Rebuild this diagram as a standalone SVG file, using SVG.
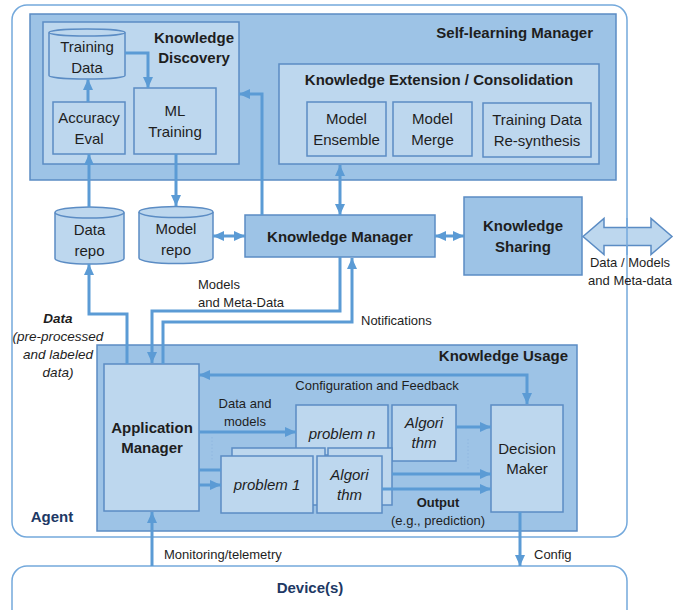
<svg xmlns="http://www.w3.org/2000/svg" width="683" height="610" viewBox="0 0 683 610">
<style>
.dk{fill:#9dc3e6;stroke:#5b8cc4;stroke-width:1.5}
.lt{fill:#bdd7ee;stroke:#5b8cc4;stroke-width:1.5}
.outer{fill:#fff;stroke:#74a9dc;stroke-width:1.5}
.ar{fill:none;stroke:#5b9bd5;stroke-width:3}
.dot{fill:none;stroke:#8fb6e0;stroke-width:1;stroke-dasharray:1.5 2}
text{font-family:"Liberation Sans",Arial,sans-serif;fill:#1e1e1e}
.t15{font-size:15px}
.b15{font-size:15px;font-weight:bold}
.t13{font-size:13px}
.i15{font-size:15px;font-style:italic}
.navy{font-size:15px;font-weight:bold;fill:#203864}
.m{text-anchor:middle}
.e{text-anchor:end}
</style>
<defs>
<marker id="ah" markerUnits="userSpaceOnUse" markerWidth="11" markerHeight="10" refX="11" refY="5" orient="auto-start-reverse">
<path d="M0,0 L11,5 L0,10 z" fill="#5b9bd5"/>
</marker>
</defs>

<g id="agent">
<rect class="outer" x="12" y="5" width="615" height="532" rx="15"/>
<text class="navy m" x="52" y="522">Agent</text>
</g>

<g id="device">
<rect class="outer" x="12" y="566" width="615" height="70" rx="15"/>
<text class="navy m" x="310" y="593">Device(s)</text>
</g>

<g id="self-learning-manager">
<rect class="dk" x="30" y="14" width="586" height="166"/>
<text class="b15 e" x="593" y="38">Self-learning Manager</text>
</g>

<g id="knowledge-discovery">
<rect class="lt" x="43" y="22" width="196" height="142"/>
<text class="b15 m" x="194" y="43">Knowledge</text>
<text class="b15 m" x="194" y="63">Discovery</text>
</g>

<g id="training-data">
<path class="lt" d="M49,32.5 L49,75.5 A38,3.5 0 0 0 125,75.5 L125,32.5"/>
<ellipse class="lt" cx="87" cy="32.5" rx="38" ry="3.5"/>
<text class="t15 m" x="87" y="52">Training</text>
<text class="t15 m" x="87" y="73">Data</text>
</g>

<g id="accuracy-eval">
<rect class="lt" x="53" y="102" width="72" height="52"/>
<text class="t15 m" x="89" y="123">Accuracy</text>
<text class="t15 m" x="89" y="144">Eval</text>
</g>

<g id="ml-training">
<rect class="lt" x="134" y="88" width="82" height="66"/>
<text class="t15 m" x="175" y="116">ML</text>
<text class="t15 m" x="175" y="137">Training</text>
</g>

<g id="knowledge-extension">
<rect class="lt" x="279" y="64" width="320" height="100"/>
<text class="b15 m" x="439" y="85">Knowledge Extension / Consolidation</text>
</g>

<g id="model-ensemble">
<rect class="lt" x="307" y="102" width="79" height="54"/>
<text class="t15 m" x="346.5" y="124">Model</text>
<text class="t15 m" x="346.5" y="145">Ensemble</text>
</g>

<g id="model-merge">
<rect class="lt" x="393" y="102" width="79" height="54"/>
<text class="t15 m" x="432.5" y="124">Model</text>
<text class="t15 m" x="432.5" y="145">Merge</text>
</g>

<g id="training-data-resynthesis">
<rect class="lt" x="483" y="103" width="108" height="54"/>
<text class="t15 m" x="537" y="125">Training Data</text>
<text class="t15 m" x="537" y="146">Re-synthesis</text>
</g>

<g id="data-repo">
<path class="lt" d="M55,212.5 L55,258.5 A34.5,5.5 0 0 0 124,258.5 L124,212.5"/>
<ellipse class="lt" cx="89.5" cy="212.5" rx="34.5" ry="5.5"/>
<text class="t15 m" x="89.5" y="235">Data</text>
<text class="t15 m" x="89.5" y="256">repo</text>
</g>

<g id="model-repo">
<path class="lt" d="M139,212 L139,258 A37,5.5 0 0 0 213,258 L213,212"/>
<ellipse class="lt" cx="176" cy="212" rx="37" ry="5.5"/>
<text class="t15 m" x="176" y="234">Model</text>
<text class="t15 m" x="176" y="255">repo</text>
</g>

<g id="knowledge-manager">
<rect class="dk" x="245" y="215" width="190" height="42"/>
<text class="b15 m" x="340" y="242">Knowledge Manager</text>
</g>

<g id="knowledge-sharing">
<rect class="dk" x="464" y="197" width="118" height="78"/>
<text class="b15 m" x="523" y="231">Knowledge</text>
<text class="b15 m" x="523" y="252">Sharing</text>
</g>

<g id="sharing-arrow">
<polygon points="583,236.5 604,218.5 604,227.5 651,227.5 651,218.5 672,236.5 651,254.5 651,245.5 604,245.5 604,254.5" fill="#bdd7ee" stroke="#5b8cc4" stroke-width="1.5"/>
<line x1="627" y1="218" x2="627" y2="255" stroke="#74a9dc" stroke-width="1.5"/>
<text class="t13 m" x="630" y="267">Data / Models</text>
<text class="t13 m" x="630" y="285">and Meta-data</text>
</g>

<g id="knowledge-usage">
<rect class="dk" x="97" y="345" width="480" height="186"/>
<text class="b15 e" x="568" y="361">Knowledge Usage</text>
</g>

<g id="application-manager">
<rect class="lt" x="104" y="364" width="95" height="147"/>
<text class="b15 m" x="152" y="433">Application</text>
<text class="b15 m" x="152" y="453">Manager</text>
</g>

<g id="problem-n">
<rect class="lt" x="296" y="405" width="92" height="50"/>
<text class="i15 m" x="342" y="439">problem n</text>
</g>

<g id="algorithm-n">
<rect class="lt" x="392" y="405" width="64" height="56"/>
<text class="i15 m" x="424" y="428">Algori</text>
<text class="i15 m" x="424" y="448">thm</text>
</g>

<g id="problem-mid">
<rect class="lt" x="232" y="448" width="93" height="57"/>
</g>

<g id="algorithm-mid">
<rect class="lt" x="328" y="448" width="64" height="57"/>
</g>

<g id="problem-1">
<rect class="lt" x="221" y="456" width="92" height="57"/>
<text class="i15 m" x="267" y="490">problem 1</text>
</g>

<g id="algorithm-1">
<rect class="lt" x="317" y="456" width="65" height="57"/>
<text class="i15 m" x="349.5" y="480">Algori</text>
<text class="i15 m" x="349.5" y="500">thm</text>
</g>

<g id="decision-maker">
<rect class="lt" x="491" y="405" width="72" height="107"/>
<text class="t15 m" x="527" y="454">Decision</text>
<text class="t15 m" x="527" y="474">Maker</text>
</g>

<g id="connectors">
<polyline class="ar" points="125,53 148,53 148,88" marker-end="url(#ah)"/>
<line class="ar" x1="88" y1="102" x2="88" y2="79" marker-end="url(#ah)"/>
<line class="ar" x1="89" y1="207" x2="89" y2="154" marker-end="url(#ah)"/>
<line class="ar" x1="176" y1="154" x2="176" y2="206" marker-end="url(#ah)"/>
<polyline class="ar" points="262,215 262,94 239,94" marker-end="url(#ah)"/>
<line class="ar" x1="340" y1="165" x2="340" y2="215" marker-start="url(#ah)" marker-end="url(#ah)"/>
<line class="ar" x1="213" y1="236" x2="245" y2="236" marker-start="url(#ah)" marker-end="url(#ah)"/>
<line class="ar" x1="435" y1="236" x2="464" y2="236" marker-start="url(#ah)" marker-end="url(#ah)"/>
<polyline class="ar" points="127,364 127,314 89,314 89,264" marker-end="url(#ah)"/>
<polyline class="ar" points="340,257 340,311 152,311 152,363" marker-end="url(#ah)"/>
<polyline class="ar" points="163,364 163,322 352,322 352,258" marker-end="url(#ah)"/>
<polyline class="ar" points="199,375 527,375 527,404" marker-start="url(#ah)" marker-end="url(#ah)"/>
<line class="ar" x1="199" y1="432" x2="296" y2="432" marker-end="url(#ah)"/>
<line class="ar" x1="199" y1="470" x2="221" y2="470"/>
<line class="ar" x1="199" y1="485" x2="221" y2="485" marker-end="url(#ah)"/>
<line class="ar" x1="456" y1="427" x2="491" y2="427" marker-end="url(#ah)"/>
<line class="ar" x1="392" y1="474" x2="491" y2="474" marker-end="url(#ah)"/>
<line class="ar" x1="382" y1="489" x2="491" y2="489" marker-end="url(#ah)"/>
<line class="ar" x1="152" y1="566" x2="152" y2="512" marker-end="url(#ah)"/>
<line class="ar" x1="520" y1="512" x2="520" y2="566" marker-end="url(#ah)"/>
<line class="dot" x1="212" y1="437" x2="212" y2="460"/>
<line class="dot" x1="468" y1="439" x2="468" y2="470"/>
</g>

<g id="labels">
<text class="t13" x="198" y="289">Models</text>
<text class="t13" x="198" y="307">and Meta-Data</text>
<text class="t13" x="361" y="325">Notifications</text>
<text class="m" x="58" y="323" style="font-size:13.5px;font-weight:bold;font-style:italic">Data</text>
<text class="m" x="58" y="341" style="font-size:13.5px;font-style:italic">(pre-processed</text>
<text class="m" x="58" y="359" style="font-size:13.5px;font-style:italic">and labeled</text>
<text class="m" x="58" y="377" style="font-size:13.5px;font-style:italic">data)</text>
<text class="t13 m" x="377" y="390">Configuration and Feedback</text>
<text class="t13 m" x="245" y="408">Data and</text>
<text class="t13 m" x="245" y="426">models</text>
<text class="m" x="438" y="507" style="font-size:13px;font-weight:bold">Output</text>
<text class="t13 m" x="438" y="525">(e.g., prediction)</text>
<text class="t13" x="164" y="559">Monitoring/telemetry</text>
<text class="t13" x="534" y="559">Config</text>
</g>
</svg>
